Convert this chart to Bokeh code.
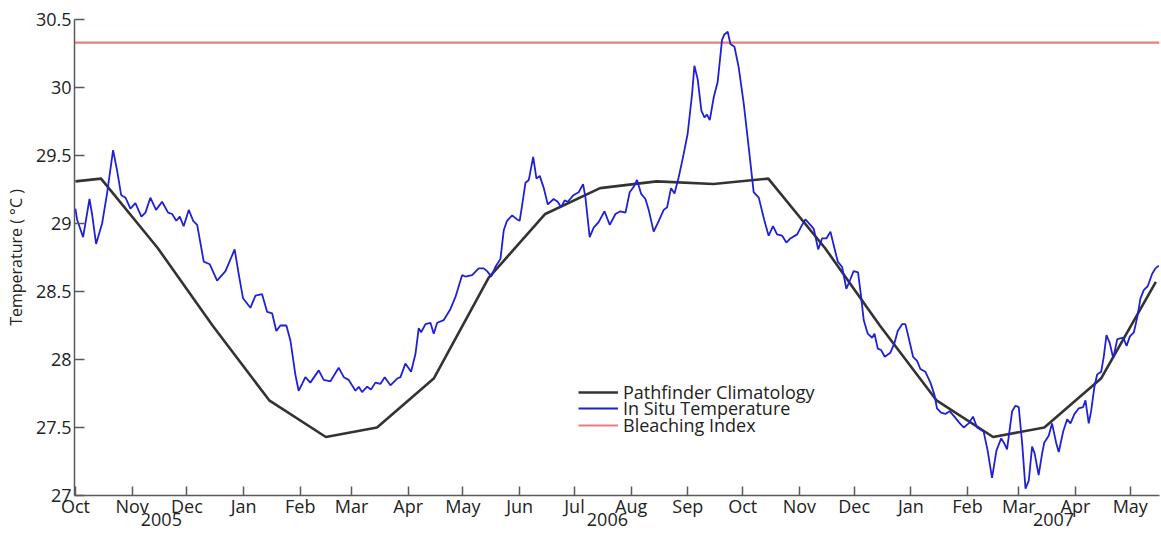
import pandas as pd
from bokeh.plotting import figure
from bokeh.models import (LinearAxis, FixedTicker, NumeralTickFormatter, Legend,
                          LegendItem, Range1d)
from bokeh.embed import file_html
from bokeh.resources import INLINE

START = "2005-10-01"   # day 0 of the in-situ record

# In situ temperature: days since 2005-10-01, degrees C
insitu_day = [0, 0.9, 4.2, 7.7, 9.1, 11.3, 14.6, 17.3, 20.6, 22.8, 25.0, 27.4, 30.1, 32.8, 36.1, 38.3,
              41.0, 44.1, 47.4, 50.7, 52.9, 55.2, 57.1, 59.2, 62.0, 64.4, 66.6, 70.2, 73.5, 77.5, 82.1,
              87.1, 89.3, 91.7, 95.7,
              98.5, 102.1, 104.9, 107.6, 109.9, 112.1, 115.4, 117.6, 120.3, 122.1, 124.0, 125.8, 128.5,
              133.1, 135.8, 139.5, 144.0, 146.8, 149.5, 153.2, 155.0, 156.8, 159.6, 161.7, 164.1, 166.8,
              169.2, 172.3, 176.0, 177.8, 180.5, 183.6, 186.0, 187.8, 189.1, 191.5, 194.2, 196.0, 197.9,
              201.5, 205.1, 207.9, 211.5, 213.3, 217.0, 220.6, 223.3, 225.2, 227.4, 229.7, 232.5, 234.3,
              236.1, 238.9, 241.6, 243.0, 244.3, 246.2, 248.0, 250.4, 252.2, 254.0, 256.2, 258.4, 261.6,
              263.8, 265.7, 267.6, 269.3, 272.6, 275.3, 277.7, 279.0, 281.3, 283.5, 286.2, 289.4, 292.3,
              295.4, 298.1,
              300.9, 303.2, 305.4, 307.2, 309.4, 311.8, 313.6, 316.3, 319.1, 321.8, 323.7, 325.8, 327.7,
              330.0, 332.4, 334.9, 337.3, 338.6, 340.4, 342.4, 344.1, 345.5, 347.0, 349.2, 351.3, 353.7,
              355.0, 356.8, 358.3, 360.5, 362.8, 365.6, 368.3, 371.0, 373.8, 376.9, 379.2, 381.6, 383.8,
              386.6, 388.9, 391.1,
              394.8, 397.5, 399.3, 402.0, 403.9, 406.3, 408.4, 410.8, 413.0, 414.8, 417.0, 419.4, 421.7,
              423.9, 425.7, 428.1, 429.8, 431.2, 433.4, 435.8, 437.1, 438.9, 440.7, 442.7, 445.8, 448.0,
              449.8, 452.2, 454.0, 455.8, 458.2, 460.4, 462.2, 464.9, 467.7, 469.9, 471.3, 473.5, 475.9,
              478.2, 480.8, 483.2, 485.9, 488.6, 491.0, 493.2,
              496.8, 499.0, 501.4, 503.8, 506.4, 507.8, 509.6, 512.4, 514.2, 516.0, 517.9, 519.7, 521.5,
              523.3, 524.7, 526.9, 528.8, 530.0, 532.4, 534.2, 536.6, 537.9, 540.3, 542.5, 544.3, 546.5,
              548.8, 551.2, 552.5, 554.3, 555.6, 557.4, 558.9, 561.1, 562.5, 564.0, 565.8, 567.7, 569.9,
              573.2, 575.0, 576.8, 579.0, 580.8, 582.6, 584.4, 586.6, 589.0, 590.8, 592.6]
insitu_temp = [29.11, 29.03, 28.90, 29.18, 29.07, 28.85, 29.00, 29.22, 29.54, 29.39, 29.21, 29.19, 29.11,
               29.15, 29.05, 29.08, 29.19, 29.10, 29.16, 29.08, 29.07, 29.02, 29.05, 28.98, 29.10, 29.02,
               28.99, 28.72, 28.70, 28.58, 28.65, 28.81, 28.63, 28.45, 28.38,
               28.47, 28.48, 28.35, 28.34, 28.21, 28.25, 28.25, 28.14, 27.89, 27.77, 27.82, 27.87, 27.83,
               27.92, 27.85, 27.84, 27.94, 27.87, 27.85, 27.77, 27.80, 27.76, 27.80, 27.78, 27.83, 27.82,
               27.87, 27.81, 27.86, 27.87, 27.97, 27.91, 28.04, 28.23, 28.20, 28.26, 28.27, 28.19, 28.27,
               28.29, 28.37, 28.46, 28.62, 28.61, 28.62, 28.67, 28.67, 28.65, 28.61, 28.68, 28.74, 28.95,
               29.02, 29.06, 29.03, 29.02, 29.13, 29.30, 29.32, 29.49, 29.33, 29.35, 29.26, 29.14, 29.18,
               29.16, 29.12, 29.17, 29.16, 29.21, 29.23, 29.29, 29.19, 28.90, 28.97, 29.01, 29.09, 28.99,
               29.07, 29.09,
               29.08, 29.23, 29.27, 29.32, 29.22, 29.18, 29.10, 28.94, 29.02, 29.10, 29.12, 29.26, 29.22,
               29.34, 29.49, 29.66, 29.95, 30.16, 30.06, 29.83, 29.78, 29.80, 29.76, 29.93, 30.04, 30.35,
               30.39, 30.41, 30.32, 30.30, 30.15, 29.88, 29.56, 29.23, 29.19, 29.02, 28.91, 28.98, 28.92,
               28.91, 28.86, 28.89,
               28.92, 28.99, 29.03, 28.99, 28.96, 28.81, 28.89, 28.89, 28.94, 28.84, 28.72, 28.68, 28.52,
               28.59, 28.65, 28.64, 28.46, 28.29, 28.19, 28.16, 28.19, 28.08, 28.07, 28.02, 28.05, 28.12,
               28.21, 28.26, 28.26, 28.16, 28.02, 27.99, 27.93, 27.91, 27.83, 27.74, 27.64, 27.61, 27.60,
               27.62, 27.58, 27.54, 27.50, 27.53, 27.58, 27.50,
               27.47, 27.33, 27.13, 27.33, 27.42, 27.39, 27.34, 27.62, 27.66, 27.65, 27.38, 27.05, 27.11,
               27.36, 27.31, 27.15, 27.31, 27.39, 27.44, 27.53, 27.38, 27.32, 27.47, 27.56, 27.53, 27.60,
               27.64, 27.65, 27.70, 27.53, 27.62, 27.80, 27.89, 27.91, 28.02, 28.18, 28.12, 28.01, 28.15,
               28.16, 28.10, 28.17, 28.20, 28.31, 28.45, 28.51, 28.54, 28.63, 28.67, 28.69]

# Pathfinder climatology (monthly, mid-month)
clim_dates = ["2005-10-01", "2005-10-15", "2005-11-15", "2005-12-15", "2006-01-15", "2006-02-15",
              "2006-03-15", "2006-04-15", "2006-05-15", "2006-06-15", "2006-07-15", "2006-08-15",
              "2006-09-15", "2006-10-15", "2006-11-15", "2006-12-15", "2007-01-15", "2007-02-15",
              "2007-03-15", "2007-04-15", "2007-05-15"]
clim_temp = [29.31, 29.33, 28.82, 28.25, 27.70, 27.43, 27.50, 27.86, 28.60, 29.07, 29.26, 29.31,
             29.29, 29.33, 28.82, 28.25, 27.70, 27.43, 27.50, 27.86, 28.57]

bleaching_index = 30.33

month_tick_start = "2005-10-01"
month_tick_end = "2007-05-01"
year_labels = ["2005", "2006", "2007"]
year_label_dates = ["2005-11-17", "2006-07-19", "2007-03-20"]
y_ticks = [27, 27.5, 28, 28.5, 29, 29.5, 30, 30.5]
x_start, x_end = -0.5, 593.0

assert len(insitu_day) == len(insitu_temp)
assert len(clim_dates) == len(clim_temp)

t0 = pd.Timestamp(START)
def to_day(dates):
    return [(pd.Timestamp(d) - t0).days for d in dates]

clim_day = to_day(clim_dates)
month_starts = pd.date_range(month_tick_start, month_tick_end, freq="MS")
month_days = to_day(month_starts)
month_labels = [d.strftime("%b") for d in month_starts]
year_days = to_day(year_label_dates)

FONT = "Open Sans"
AX = "#5a5a5a"
TXT = "#222222"
FS = "18px"

p = figure(width=1161, height=533, output_backend="svg", toolbar_location=None,
           x_range=Range1d(x_start, x_end), y_range=Range1d(27, 30.5),
           min_border_left=74, min_border_top=19, min_border_right=2, min_border_bottom=38)
p.outline_line_color = None
p.grid.visible = False
p.background_fill_color = "white"

r_bleach = p.line([x_start, x_end], [bleaching_index, bleaching_index],
                  line_color="#f07a7a", line_width=2.2)
r_clim = p.line(clim_day, clim_temp, line_color="#333333", line_width=2.6)
r_insitu = p.line(insitu_day, insitu_temp, line_color="#2020d8", line_width=1.8)

# x axis (months)
xa = p.xaxis[0]
xa.ticker = FixedTicker(ticks=month_days)
xa.major_label_overrides = {d: l for d, l in zip(month_days, month_labels)}
xa.major_tick_in = 9
xa.major_tick_out = 0
xa.minor_tick_line_color = None
xa.axis_line_color = AX
xa.axis_line_width = 1.5
xa.major_tick_line_color = AX
xa.major_tick_line_width = 1.5
xa.major_label_text_font = FONT
xa.major_label_text_font_size = FS
xa.major_label_text_color = TXT
xa.major_label_standoff = -2

# second row: years
ya_axis = LinearAxis(ticker=FixedTicker(ticks=year_days),
                     major_label_overrides={d: l for d, l in zip(year_days, year_labels)},
                     axis_line_color=None, major_tick_line_color=None, minor_tick_line_color=None,
                     major_tick_in=0, major_tick_out=0, major_label_standoff=-8,
                     major_label_text_font=FONT, major_label_text_font_size=FS,
                     major_label_text_color=TXT)
p.add_layout(ya_axis, "below")

# y axis
yx = p.yaxis[0]
yx.ticker = FixedTicker(ticks=y_ticks)
yx.formatter = NumeralTickFormatter(format="0.[0]")
yx.major_tick_in = 10
yx.major_tick_out = 0
yx.minor_tick_line_color = None
yx.axis_line_color = AX
yx.axis_line_width = 1.5
yx.major_tick_line_color = AX
yx.major_tick_line_width = 1.5
yx.major_label_text_font = FONT
yx.major_label_text_font_size = FS
yx.major_label_text_color = TXT
yx.major_label_standoff = 3
yx.axis_label = "Temperature ( °C )"
yx.axis_label_text_font = FONT
yx.axis_label_text_font_size = "16px"
yx.axis_label_text_font_style = "normal"
yx.axis_label_text_color = TXT
yx.axis_label_standoff = 6

# legend: one row per Legend so the row spacing can be matched
legend_rows = [("Pathfinder Climatology", r_clim, 91),
               ("In Situ Temperature", r_insitu, 75),
               ("Bleaching Index", r_bleach, 58)]
for label, rend, ypos in legend_rows:
    lg = Legend(items=[LegendItem(label=label, renderers=[rend])],
                location=(504, ypos), border_line_color=None, background_fill_alpha=0,
                padding=0, margin=0, spacing=0, glyph_width=40, glyph_height=16,
                label_height=16, label_standoff=5, label_text_font=FONT,
                label_text_font_size=FS, label_text_color=TXT)
    p.add_layout(lg)

open("out.html", "w").write(file_html(p, INLINE))
